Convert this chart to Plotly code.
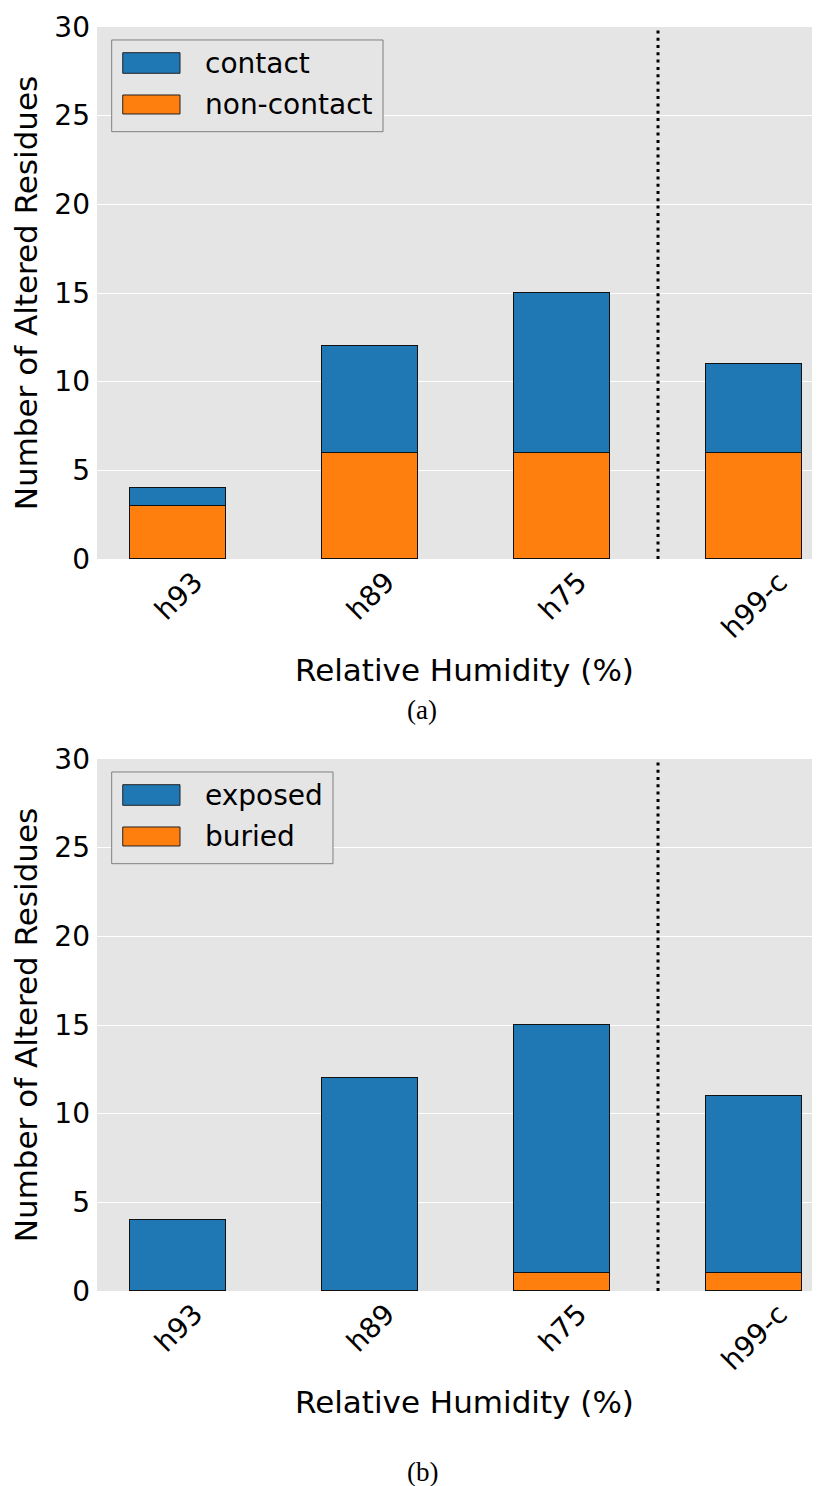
import plotly.graph_objects as go
from plotly.subplots import make_subplots

# ---- data ----
categories = ["h93", "h89", "h75", "h99-c"]
contact = [1, 6, 9, 5]
non_contact = [3, 6, 6, 6]
exposed = [4, 12, 14, 10]
buried = [0, 0, 1, 1]
y_ticks = [0, 5, 10, 15, 20, 25, 30]
panel_a_names = ["contact", "non-contact"]
panel_b_names = ["exposed", "buried"]
captions = ["(a)", "(b)"]
x_title = "Relative Humidity (%)"
y_title = "Number of Altered Residues"
split_after = 2  # dotted divider between h75 and h99-c

BLUE = "#1f77b4"
ORANGE = "#ff7f0e"
BG = "#e5e5e5"
FONT = "DejaVu Sans"

# page body has an 8px margin: figure is shifted by (8, 8)
W, H = 812, 1478
L, R, T, B = 89, 0, 19, 195
plot_h = H - T - B
top_dom = [(1291 - 559) / plot_h, 1.0]
bot_dom = [0.0, (1291 - 759) / plot_h]

fig = make_subplots(rows=2, cols=1)
xpos = list(range(len(categories)))

panels = [
    (1, [(non_contact, ORANGE, panel_a_names[1]), (contact, BLUE, panel_a_names[0])], panel_a_names, 0.3956),
    (2, [(buried, ORANGE, panel_b_names[1]), (exposed, BLUE, panel_b_names[0])], panel_b_names, 0.3264),
]

for row, traces, names, box_x1 in panels:
    for vals, col, name in traces:
        fig.add_trace(
            go.Bar(x=xpos, y=vals, name=name, width=0.5,
                   marker=dict(color=col, line=dict(color="#111111", width=1)),
                   showlegend=False),
            row=row, col=1)
    xr = "x" if row == 1 else "x2"
    yr = "y" if row == 1 else "y2"
    # dotted divider
    fig.add_shape(type="line", xref=xr, yref=yr + " domain",
                  x0=split_after + 0.5, x1=split_after + 0.5, y0=0, y1=1,
                  line=dict(color="black", width=3, dash="3px,4.3px"))
    # x tick labels (rotated, centered like matplotlib)
    for xi, lab in zip(xpos, categories):
        fig.add_annotation(x=xi, y=0, xref=xr, yref=yr + " domain",
                           text=lab, textangle=-45, showarrow=False,
                           xanchor="center", yanchor="top", yshift=-4,
                           font=dict(family=FONT, size=28, color="black"))
    # x title
    fig.add_annotation(x=0.508, y=0, xref=xr + " domain", yref=yr + " domain",
                       text=x_title, showarrow=False, xanchor="center", yanchor="middle",
                       yshift=-111, font=dict(family=FONT, size=31, color="black"))
    # caption
    fig.add_annotation(x=(422 - 97) / (820 - 97), y=0, xref=xr + " domain", yref=yr + " domain",
                       text=captions[row - 1], showarrow=False, xanchor="center", yanchor="middle",
                       yshift=(-151 if row == 1 else -181),
                       font=dict(family="Liberation Serif", size=27, color="black"))
    # legend (drawn manually to match matplotlib style)
    fig.add_shape(type="rect", xref=xr + " domain", yref=yr + " domain",
                  x0=0.0203, x1=box_x1, y0=0.8032, y1=0.9756,
                  line=dict(color="#7f7f7f", width=1), fillcolor="#e5e5e5", layer="above")
    sw = [(BLUE, 0.9130, 0.9517, 0.9323, names[0]), (ORANGE, 0.8365, 0.8722, 0.8534, names[1])]
    for col, y0, y1, yc, nm in sw:
        fig.add_shape(type="rect", xref=xr + " domain", yref=yr + " domain",
                      x0=0.0356, x1=0.1148, y0=y0, y1=y1,
                      line=dict(color="#222222", width=1), fillcolor=col, layer="above")
        fig.add_annotation(x=0.1466, y=yc, xref=xr + " domain", yref=yr + " domain",
                           text=nm, showarrow=False, xanchor="left", yanchor="middle",
                           font=dict(family=FONT, size=28, color="black"))

axis_common_x = dict(range=[-0.4219, 3.3437], showticklabels=False, showgrid=False,
                     zeroline=False, ticks="", tickvals=xpos, showline=False)
axis_common_y = dict(range=[0, 30], tickvals=y_ticks, showgrid=True, gridcolor="white",
                     gridwidth=1.2, zeroline=False, ticks="", showline=False,
                     tickfont=dict(family=FONT, size=28, color="black"),
                     ticklabelstandoff=6,
                     title=dict(text=y_title, font=dict(family=FONT, size=31, color="black"),
                                standoff=10))

fig.update_layout(
    width=W, height=H, barmode="stack",
    paper_bgcolor="white", plot_bgcolor=BG,
    margin=dict(l=L, r=R, t=T, b=B, autoexpand=False),
    xaxis=dict(domain=[0, 1], anchor="y", **axis_common_x),
    xaxis2=dict(domain=[0, 1], anchor="y2", **axis_common_x),
    yaxis=dict(domain=top_dom, anchor="x", **axis_common_y),
    yaxis2=dict(domain=bot_dom, anchor="x2", **axis_common_y),
    bargap=0,
)

fig.write_html("out.html")
